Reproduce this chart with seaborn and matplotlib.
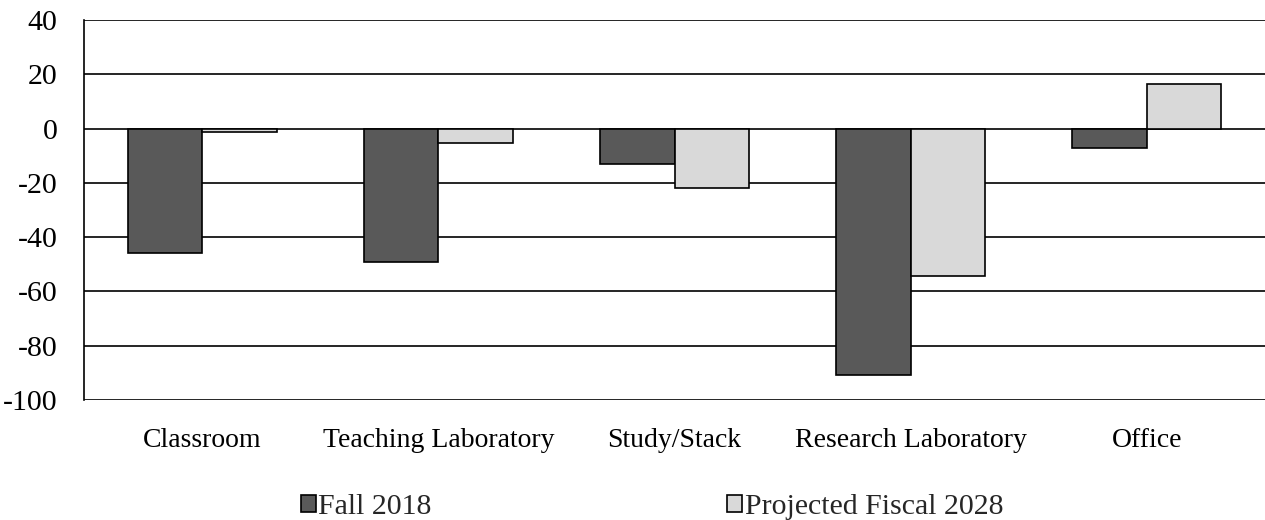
import matplotlib
matplotlib.use("Agg")
import matplotlib.pyplot as plt
import seaborn as sns
import pandas as pd

categories = ["Classroom", "Teaching Laboratory", "Study/Stack", "Research Laboratory", "Office"]
series_names = ["Fall 2018", "Projected Fiscal 2028"]
fall_2018 = [-46, -49, -13, -90.7, -7]
projected_2028 = [-1.3, -5.2, -22, -54.4, 16.3]
y_ticks = [40, 20, 0, -20, -40, -60, -80, -100]

df = pd.DataFrame({
    "Category": categories * 2,
    "Series": [series_names[0]] * len(categories) + [series_names[1]] * len(categories),
    "Value": fall_2018 + projected_2028,
})

sns.set_theme(style="white")
plt.rcParams["font.family"] = ["Liberation Serif", "DejaVu Serif"]

fig = plt.figure(figsize=(12.65, 5.2), dpi=100)
ax = fig.add_axes([84 / 1265, 1 - 400 / 520, (1265 - 84) / 1265, 380 / 520])

sns.barplot(data=df, x="Category", y="Value", hue="Series", order=categories,
            hue_order=series_names, palette=["#595959", "#d9d9d9"],
            width=0.63, edgecolor="black", linewidth=1.2, ax=ax, legend=True,
            zorder=3)

ax.set_ylim(-100, 40)
ax.set_xlim(-0.5, len(categories) - 0.5)
ax.set_yticks(y_ticks)
ax.set_yticklabels([str(t) for t in y_ticks])
ax.yaxis.grid(True, color="black", linewidth=1.2, zorder=0)
ax.set_axisbelow(True)
ax.set_xlabel("")
ax.set_ylabel("")
for s in ["top", "right", "bottom"]:
    ax.spines[s].set_visible(False)
ax.spines["left"].set_color("black")
ax.spines["left"].set_linewidth(1.2)
ax.tick_params(axis="y", length=0, labelsize=21.5, colors="black", pad=19)
ax.tick_params(axis="x", length=0, labelsize=20, colors="black", pad=20)

handles, labels = ax.get_legend_handles_labels()
ax.get_legend().remove()
fig.legend(handles, labels, loc="center left", bbox_to_anchor=(301 / 1265, 1 - 507 / 520),
           ncol=2, frameon=False, fontsize=21.5, handlelength=0.5, handleheight=0.5,
           handletextpad=0.08, columnspacing=9.9, borderpad=0, borderaxespad=0)

fig.savefig("out.png", dpi=100)
